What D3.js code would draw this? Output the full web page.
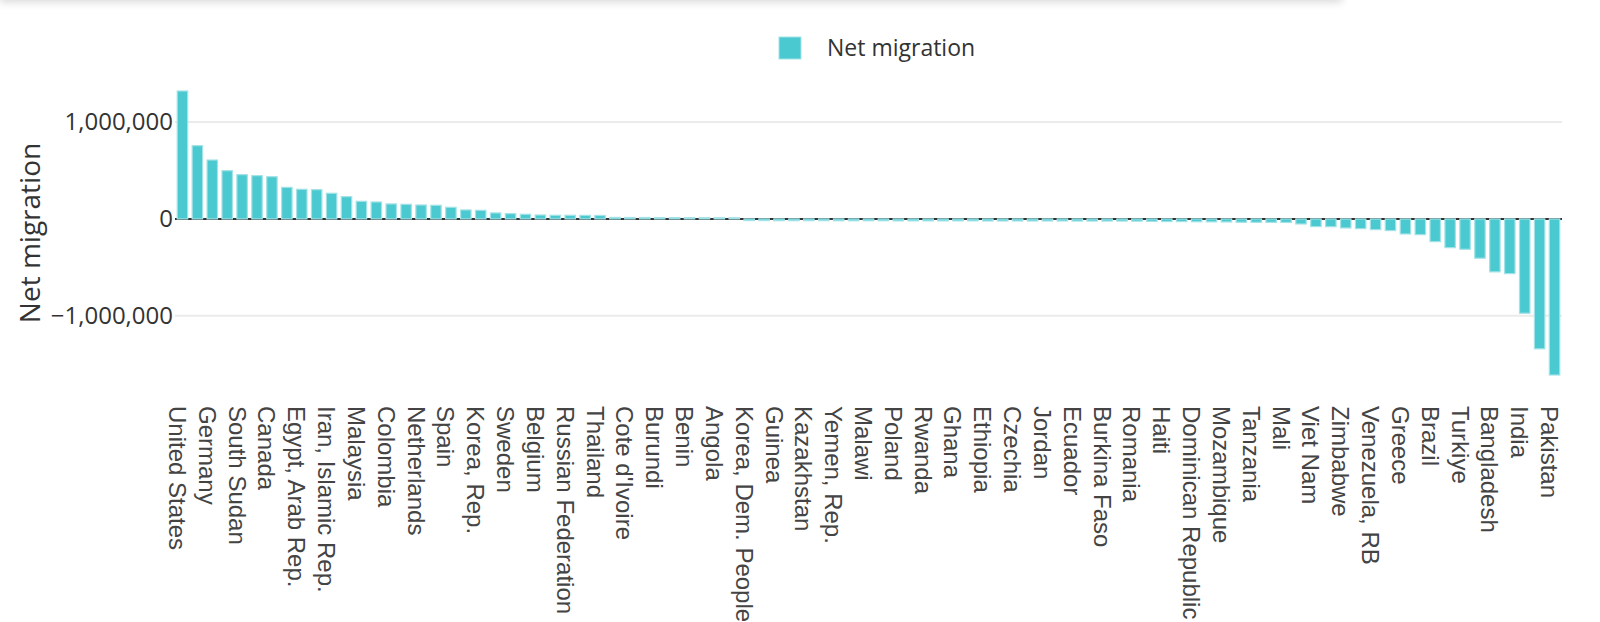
<!DOCTYPE html>
<html>
<head>
<meta charset="utf-8">
<script src="https://cdn.jsdelivr.net/npm/d3@7"></script>
<style>
  html, body { margin: 0; padding: 0; background: #fff; overflow: hidden; }
  #shadow {
    position: absolute; left: 0; top: -20px; width: 1342px; height: 20px;
    background: #fff; box-shadow: 0 2px 9px rgba(0, 0, 0, 0.16);
  }
  svg { position: absolute; left: 0; top: 0; }
</style>
</head>
<body>
<div id="shadow"></div>
<svg id="chart"></svg>
<script>
// ---------- data ----------
const countries = [
  "United States", "United Kingdom", "Germany", "Saudi Arabia", "South Sudan", "Australia",
  "Canada", "Uganda", "Egypt, Arab Rep.", "Chad", "Iran, Islamic Rep.", "Japan",
  "Malaysia", "Italy", "Colombia", "Chile", "Netherlands", "France",
  "Spain", "Kuwait", "Korea, Rep.", "Switzerland", "Sweden", "Austria",
  "Belgium", "Denmark", "Russian Federation", "Singapore", "Thailand", "Norway",
  "Cote d'Ivoire", "Niger", "Burundi", "Togo", "Benin", "Gabon",
  "Angola", "Mongolia", "Korea, Dem. People's Rep.", "Cuba", "Guinea", "Liberia",
  "Kazakhstan", "Uzbekistan", "Yemen, Rep.", "Zambia", "Malawi", "Hungary",
  "Poland", "Bulgaria", "Rwanda", "Senegal", "Ghana", "Madagascar",
  "Ethiopia", "Kenya", "Czechia", "Lebanon", "Jordan", "Peru",
  "Ecuador", "Bolivia", "Burkina Faso", "Cameroon", "Romania", "Honduras",
  "Haiti", "Guatemala", "Dominican Republic", "El Salvador", "Mozambique", "Sri Lanka",
  "Tanzania", "Nepal", "Mali", "Morocco", "Viet Nam", "Somalia",
  "Zimbabwe", "Sudan", "Venezuela, RB", "Philippines", "Greece", "Nigeria",
  "Brazil", "China", "Turkiye", "Afghanistan", "Bangladesh", "Myanmar",
  "India", "Syrian Arab Republic", "Pakistan"
];

const netMigration = [
  1320000, 756000, 608000, 498000, 457000, 447000,
  436000, 326000, 306000, 302000, 265000, 230000,
  182000, 175000, 155000, 151000, 144000, 141000,
  120000, 93000, 89000, 62000, 55000, 48000,
  41000, 38000, 38000, 37000, 36000, 16000,
  15000, 15000, 14000, 14000, 13000, 13000,
  12000, 12000, -17000, -17000, -18000, -18000,
  -18000, -18000, -19000, -19000, -19000, -19000,
  -20000, -20000, -20000, -20000, -20000, -20000,
  -21000, -21000, -21000, -21000, -21000, -21000,
  -22000, -22000, -22000, -22000, -23000, -25000,
  -27000, -27000, -29000, -30000, -31000, -34000,
  -35000, -35000, -36000, -52000, -79000, -80000,
  -93000, -100000, -110000, -120000, -155000, -162000,
  -234000, -296000, -313000, -405000, -546000, -564000,
  -973000, -1340000, -1610000
];

const yTicks = [-1000000, 0, 1000000];
const seriesName = "Net migration";
const yTitle = "Net migration";

// ---------- layout ----------
const width = 1600;
const height = 622;
const margin = { top: 91, right: 38, bottom: 247, left: 175 };

const barColor = "#4bc9d0";
const barEdge = "#a3e2e6";
const uiFont = "'Open Sans', 'Noto Sans', sans-serif";
const labelFont = "'Liberation Sans', Arial, sans-serif";

const svg = d3.select("#chart")
  .attr("width", width)
  .attr("height", height);

const x = d3.scaleBand()
  .domain(countries)
  .range([margin.left, width - margin.right])
  .paddingInner(0.3)
  .paddingOuter(0.15);

const y = d3.scaleLinear()
  .domain([d3.min(netMigration), d3.max(netMigration)])
  .range([height - margin.bottom, margin.top]);

// grid lines
svg.append("g")
  .selectAll("line")
  .data(yTicks.filter((t) => t !== 0))
  .join("line")
  .attr("x1", margin.left)
  .attr("x2", width - margin.right)
  .attr("y1", (d) => y(d))
  .attr("y2", (d) => y(d))
  .attr("stroke", "#ebebeb")
  .attr("stroke-width", 2);

// y tick labels
const yAxis = d3.axisLeft(y)
  .tickValues(yTicks)
  .tickSize(0)
  .tickPadding(2)
  .tickFormat(d3.format(","));

const yg = svg.append("g")
  .attr("transform", `translate(${margin.left},0)`)
  .call(yAxis);
yg.select(".domain").remove();
yg.selectAll("text")
  .attr("font-family", uiFont)
  .attr("font-size", 24)
  .attr("fill", "#333")
  .text((d) => d3.format(",")(d).replace("-", "\u2212"));

// zero line (bars are painted over it)
svg.append("line")
  .attr("x1", margin.left)
  .attr("x2", width - margin.right)
  .attr("y1", y(0))
  .attr("y2", y(0))
  .attr("stroke", "#333")
  .attr("stroke-width", 2);

// bars
const data = countries.map((c, i) => ({ country: c, value: netMigration[i] }));

svg.append("g")
  .selectAll("rect")
  .data(data)
  .join("rect")
  .attr("x", (d) => x(d.country))
  .attr("width", x.bandwidth())
  .attr("y", (d) => Math.min(y(d.value), y(0)))
  .attr("height", (d) => Math.max(1, Math.abs(y(d.value) - y(0))))
  .attr("fill", barColor)
  .attr("stroke", barEdge)
  .attr("stroke-width", 1.2);

// x labels, every other category
const labelTop = 406;
svg.append("g")
  .selectAll("text")
  .data(countries.filter((c, i) => i % 2 === 0))
  .join("text")
  .attr("transform", (d) =>
    `translate(${x(d) + x.bandwidth() / 2 - 13.5},${labelTop}) rotate(90)`)
  .attr("font-family", labelFont)
  .attr("font-size", 24)
  .attr("fill", "#444")
  .text((d) => d);

// y title
svg.append("text")
  .attr("transform", `translate(39.5,${(y.range()[0] + y.range()[1]) / 2}) rotate(-90)`)
  .attr("text-anchor", "middle")
  .attr("font-family", uiFont)
  .attr("font-size", 28)
  .attr("fill", "#333")
  .text(yTitle);

// legend
const legend = svg.append("g").attr("transform", "translate(779,37)");
legend.append("rect")
  .attr("width", 22)
  .attr("height", 22)
  .attr("fill", barColor)
  .attr("stroke", barEdge)
  .attr("stroke-width", 1);
legend.append("text")
  .attr("x", 48)
  .attr("y", 11)
  .attr("dy", "0.35em")
  .attr("font-family", uiFont)
  .attr("font-size", 23)
  .attr("fill", "#333")
  .text(seriesName);
</script>
</body>
</html>
